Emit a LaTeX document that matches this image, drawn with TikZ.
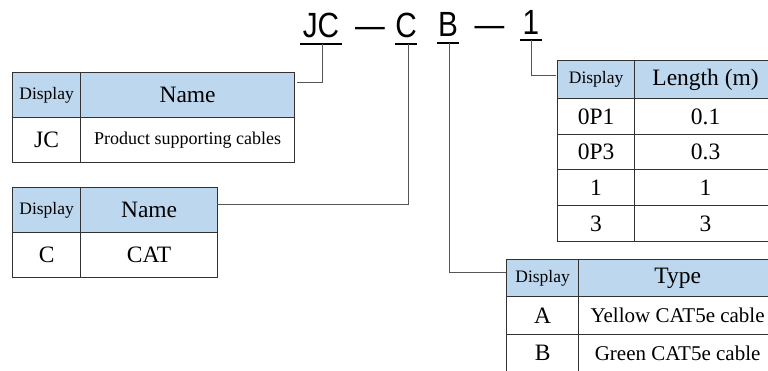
\documentclass[tikz,border=0pt]{standalone}
\usepackage{fontspec}
\setmainfont{Liberation Serif}
\newfontfamily\codefont[FakeStretch=0.85]{Liberation Sans}
\newcommand\fsz[1]{\fontsize{#1}{#1}\selectfont}
\definecolor{hdr}{RGB}{189,215,238}
\definecolor{bord}{RGB}{50,50,50}
\definecolor{lnk}{RGB}{85,85,85}
\tikzset{
  cell/.style={draw=bord, line width=1.2pt, rectangle, inner sep=0pt, anchor=north west, align=center},
  hcell/.style={cell, fill=hdr},
  code/.style={font=\codefont\fsz{35}, anchor=south, inner xsep=0pt, text depth=0pt},
  dashtxt/.style={font=\codefont\fsz{35}, anchor=base, inner sep=0pt},
  uline/.style={draw=black, line width=1.3pt},
  conn/.style={draw=lnk, line width=1pt}
}
\begin{document}
\begin{tikzpicture}[x=1pt,y=-1pt]
\path[use as bounding box] (0,0) rectangle (768,371);
\clip (0,0) rectangle (768,371);

% code line
\node[code, minimum width=42pt, inner ysep=6pt] (jc) at (321,44) {JC};
\node[dashtxt] (d1) at (370,38) {—};
\node[code, minimum width=20pt, inner ysep=6pt] (cc) at (406,44) {C};
\node[code, minimum width=22pt, inner ysep=6pt] (bb) at (448,43) {B};
\node[dashtxt] (d2) at (489.5,37) {—};
\node[code, minimum width=22pt, inner ysep=5pt] (one) at (531,40) {1};
\draw[uline] (jc.south west) -- (jc.south east);
\draw[uline] (cc.south west) -- (cc.south east);
\draw[uline] (bb.south west) -- (bb.south east);
\draw[uline] (one.south west) -- (one.south east);

% table 1: JC
\node[hcell, minimum width=68pt, minimum height=45pt, font=\fsz{17.5}] (t1h1) at (12,72) {Display};
\node[hcell, minimum width=214pt, minimum height=45pt, font=\fsz{23.5}] (t1h2) at (80,72) {Name};
\node[cell, minimum width=68pt, minimum height=45pt, font=\fsz{23.5}] (t1r1) at (12,117) {JC};
\node[cell, minimum width=214pt, minimum height=45pt, font=\fsz{18}] (t1r2) at (80,117) {Product supporting cables};

% table 2: C
\node[hcell, minimum width=68pt, minimum height=45pt, font=\fsz{17.5}] (t2h1) at (12,187) {Display};
\node[hcell, minimum width=137pt, minimum height=45pt, font=\fsz{23.5}] (t2h2) at (80,187) {Name};
\node[cell, minimum width=68pt, minimum height=45pt, font=\fsz{23.5}] (t2r1) at (12,232) {C};
\node[cell, minimum width=137pt, minimum height=45pt, font=\fsz{23.5}] (t2r2) at (80,232) {CAT};

% table 3: length
\node[hcell, minimum width=77pt, minimum height=38pt, font=\fsz{17.5}] (t3h1) at (557,60) {Display};
\node[hcell, minimum width=142pt, minimum height=38pt, font=\fsz{23.5}] (t3h2) at (634,60) {Length (m)};
\node[cell, minimum width=77pt, minimum height=36pt, font=\fsz{23.5}] (t3a1) at (557,98) {0P1};
\node[cell, minimum width=142pt, minimum height=36pt, font=\fsz{23.5}] (t3a2) at (634,98) {0.1};
\node[cell, minimum width=77pt, minimum height=35pt, font=\fsz{23.5}] (t3b1) at (557,134) {0P3};
\node[cell, minimum width=142pt, minimum height=35pt, font=\fsz{23.5}] (t3b2) at (634,134) {0.3};
\node[cell, minimum width=77pt, minimum height=36pt, font=\fsz{23.5}] (t3c1) at (557,169) {1};
\node[cell, minimum width=142pt, minimum height=36pt, font=\fsz{23.5}] (t3c2) at (634,169) {1};
\node[cell, minimum width=77pt, minimum height=36pt, font=\fsz{23.5}] (t3d1) at (557,205) {3};
\node[cell, minimum width=142pt, minimum height=36pt, font=\fsz{23.5}] (t3d2) at (634,205) {3};

% table 4: type
\node[hcell, minimum width=72pt, minimum height=37pt, font=\fsz{17.5}] (t4h1) at (506,259) {Display};
\node[hcell, minimum width=198pt, minimum height=37pt, font=\fsz{23.5}] (t4h2) at (578,259) {Type};
\node[cell, minimum width=72pt, minimum height=38pt, font=\fsz{23.5}] (t4a1) at (506,296) {A};
\node[cell, minimum width=198pt, minimum height=38pt, font=\fsz{21}] (t4a2) at (578,296) {Yellow CAT5e cable};
\node[cell, minimum width=72pt, minimum height=37pt, font=\fsz{23.5}] (t4b1) at (506,334) {B};
\node[cell, minimum width=198pt, minimum height=37pt, font=\fsz{21}] (t4b2) at (578,334) {Green CAT5e cable};

% connectors
\coordinate (t1in) at (297,83);
\coordinate (t2in) at (217,205);
\coordinate (t3in) at (556,76);
\coordinate (t4in) at (506,273);
\draw[conn] ([xshift=1pt]jc.south) |- (t1in);
\draw[conn] ([xshift=2pt]cc.south) |- (t2in);
\draw[conn] ([xshift=1pt]bb.south) |- (t4in);
\draw[conn] (one.south) |- (t3in);
\end{tikzpicture}
\end{document}
